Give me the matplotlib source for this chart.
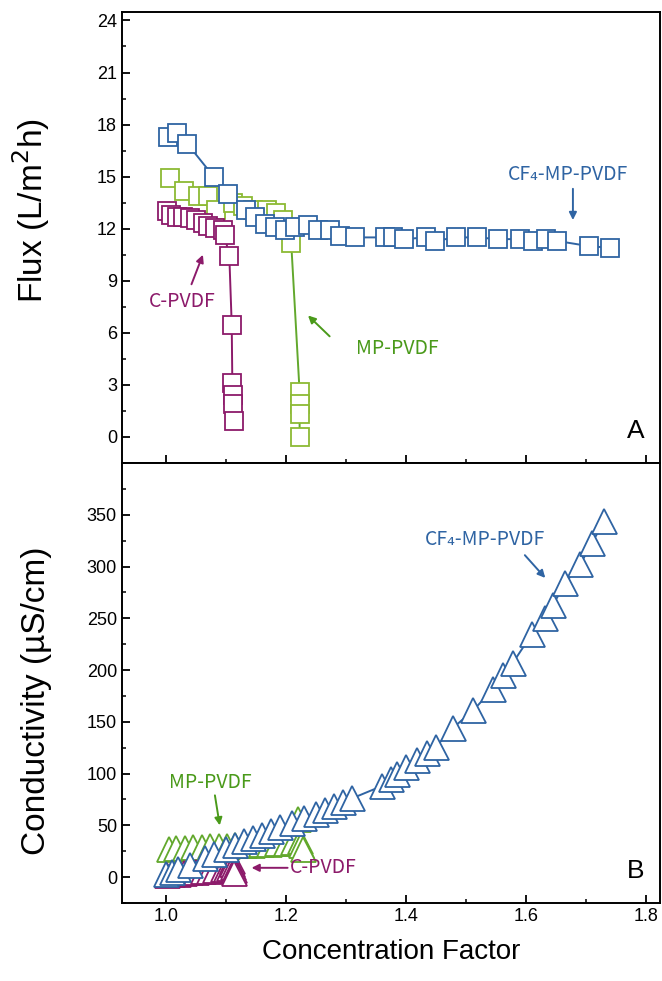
import matplotlib
matplotlib.use("Agg")
import matplotlib.pyplot as plt
from matplotlib.ticker import MultipleLocator

# ---- data ----
# flux, panel A
cf4_flux_x = [1.004, 1.019, 1.036, 1.080, 1.103, 1.134, 1.148, 1.165, 1.182, 1.198, 1.215,
              1.237, 1.254, 1.273, 1.290, 1.315, 1.365, 1.379, 1.396, 1.434, 1.448, 1.484,
              1.518, 1.554, 1.590, 1.612, 1.634, 1.651, 1.704, 1.740]
cf4_flux_y = [17.3, 17.5, 16.9, 15.0, 14.0, 13.1, 12.7, 12.3, 12.1, 11.9, 12.1,
              12.2, 11.95, 11.95, 11.6, 11.5, 11.5, 11.5, 11.4, 11.5, 11.3, 11.5,
              11.5, 11.4, 11.4, 11.3, 11.4, 11.3, 11.0, 10.9]

mp_flux_x = [1.007, 1.031, 1.054, 1.070, 1.084, 1.112, 1.129, 1.146, 1.168, 1.184, 1.196,
             1.209, 1.223, 1.223, 1.223, 1.223]
mp_flux_y = [14.9, 14.15, 13.9, 13.9, 13.1, 13.5, 13.3, 13.1, 13.1, 12.9, 12.5,
             11.2, 2.6, 1.9, 1.3, 0.0]

c_flux_x = [1.002, 1.009, 1.019, 1.029, 1.040, 1.050, 1.062, 1.071, 1.082, 1.096, 1.098,
            1.106, 1.110, 1.111, 1.112, 1.112, 1.113]
c_flux_y = [13.0, 12.8, 12.7, 12.67, 12.6, 12.5, 12.33, 12.13, 12.04, 11.94, 11.65,
            10.4, 6.46, 3.1, 2.4, 1.9, 0.9]

# conductivity, panel B
cf4_cond_x = [1.000, 1.010, 1.020, 1.040, 1.065, 1.080, 1.100, 1.115, 1.130, 1.145, 1.160,
              1.175, 1.190, 1.210, 1.230, 1.250, 1.265, 1.280, 1.295, 1.310, 1.360, 1.375,
              1.385, 1.400, 1.418, 1.435, 1.450, 1.478, 1.512, 1.545, 1.562, 1.578, 1.610,
              1.632, 1.645, 1.665, 1.690, 1.710, 1.730]
cf4_cond_y = [3, 5, 8, 12, 18, 22, 27, 31, 35, 38, 41,
              45, 48, 52, 57, 61, 65, 69, 73, 76, 88, 95,
              100, 106, 113, 120, 126, 144, 161, 182, 195, 207, 235,
              250, 263, 284, 302, 323, 344]

mp_cond_x = [1.005, 1.018, 1.032, 1.046, 1.060, 1.074, 1.088, 1.102, 1.116, 1.130, 1.144,
             1.158, 1.172, 1.186, 1.200, 1.212, 1.220, 1.224, 1.226, 1.228]
mp_cond_y = [27, 28, 28, 29, 29, 30, 30, 30, 31, 31, 31,
             32, 32, 33, 33, 34, 56, 35, 31, 27]

c_cond_x = [1.002, 1.010, 1.020, 1.030, 1.040, 1.050, 1.062, 1.072, 1.082, 1.095, 1.100,
            1.106, 1.110, 1.111, 1.112, 1.113, 1.114]
c_cond_y = [2, 3, 3, 4, 5, 5, 6, 6, 7, 8, 8,
            9, 16, 13, 10, 7, 4]

flux_ticks = [0, 3, 6, 9, 12, 15, 18, 21, 24]
cond_ticks = [0, 50, 100, 150, 200, 250, 300, 350]

blue = "#2f64a3"
green = "#62a82c"
purple = "#8c1a6a"

plt.rcParams["font.family"] = ["Liberation Sans", "DejaVu Sans"]
ann_font = ["Noto Sans CJK SC", "DejaVu Sans"]

fig = plt.figure(figsize=(6.62, 9.81), dpi=100)
axA = fig.add_axes([0.184, 0.528, 0.813, 0.460])
axB = fig.add_axes([0.184, 0.0795, 0.813, 0.4485], sharex=axA)

sq = dict(marker="s", markersize=13, markerfacecolor="white", markeredgewidth=1.3, linewidth=1.4)
tri = dict(marker="^", markersize=18, markerfacecolor="white", markeredgewidth=1.3, linewidth=1.4)

axA.plot(mp_flux_x, mp_flux_y, color=green, markeredgecolor="#8cba34", **sq)
axA.plot(c_flux_x, c_flux_y, color=purple, **sq)
axA.plot(cf4_flux_x, cf4_flux_y, color=blue, **sq)

axB.plot(mp_cond_x, mp_cond_y, color=green, **tri)
axB.plot(c_cond_x, c_cond_y, color=purple, **tri)
axB.plot(cf4_cond_x, cf4_cond_y, color=blue, **tri)

axA.set_xlim(0.927, 1.823)
axA.set_ylim(-1.5, 24.5)
axB.set_ylim(-25, 400)

axA.set_yticks(flux_ticks)
axA.yaxis.set_minor_locator(MultipleLocator(1.5))
axB.set_yticks(cond_ticks)
axB.yaxis.set_minor_locator(MultipleLocator(25))
axB.xaxis.set_major_locator(MultipleLocator(0.2))
axB.xaxis.set_minor_locator(MultipleLocator(0.1))

for ax in (axA, axB):
    ax.tick_params(which="major", direction="in", length=6, width=1.3, labelsize=13)
    ax.tick_params(which="minor", direction="in", length=3, width=1.1)
    for s in ax.spines.values():
        s.set_linewidth(1.4)
axA.tick_params(labelbottom=False)

axA.set_ylabel("Flux (L/m$^2$h)", fontsize=24, labelpad=14)
axB.set_ylabel("Conductivity (µS/cm)", fontsize=24, labelpad=10)
axB.set_xlabel("Concentration Factor", fontsize=20, labelpad=10)
axA.yaxis.set_label_coords(-0.13, 0.56)
axB.yaxis.set_label_coords(-0.13, 0.46)

arr = dict(arrowstyle="-|>", lw=1.4, mutation_scale=11, shrinkA=0, shrinkB=0)

# panel A annotations
axA.text(1.67, 15.1, "CF₄-MP-PVDF", color=blue, fontsize=14, family=ann_font, ha="center", va="center")
axA.annotate("", xy=(1.678, 12.5), xytext=(1.678, 14.3), arrowprops=dict(color=blue, **arr))
axA.text(1.027, 7.8, "C-PVDF", color=purple, fontsize=14, family=ann_font, ha="center", va="center")
axA.annotate("", xy=(1.062, 10.5), xytext=(1.043, 8.8), arrowprops=dict(color=purple, **arr))
axA.text(1.385, 5.1, "MP-PVDF", color="#4a9a1a", fontsize=14, family=ann_font, ha="center", va="center")
axA.annotate("", xy=(1.237, 7.0), xytext=(1.273, 5.8), arrowprops=dict(color="#4a9a1a", **arr))
axA.text(1.783, 0.35, "A", fontsize=19, ha="center", va="center")

# panel B annotations
axB.text(1.532, 326, "CF₄-MP-PVDF", color=blue, fontsize=14, family=ann_font, ha="center", va="center")
axB.annotate("", xy=(1.632, 289), xytext=(1.598, 311), arrowprops=dict(color=blue, **arr))
axB.text(1.075, 91, "MP-PVDF", color="#4a9a1a", fontsize=14, family=ann_font, ha="center", va="center")
axB.annotate("", xy=(1.09, 50), xytext=(1.082, 79), arrowprops=dict(color="#4a9a1a", **arr))
axB.text(1.207, 9, "C-PVDF", color=purple, fontsize=14, family=ann_font, ha="left", va="center")
axB.annotate("", xy=(1.143, 9), xytext=(1.203, 9), arrowprops=dict(color=purple, **arr))
axB.text(1.782, 6, "B", fontsize=19, ha="center", va="center")

plt.savefig("out.png", dpi=100)
